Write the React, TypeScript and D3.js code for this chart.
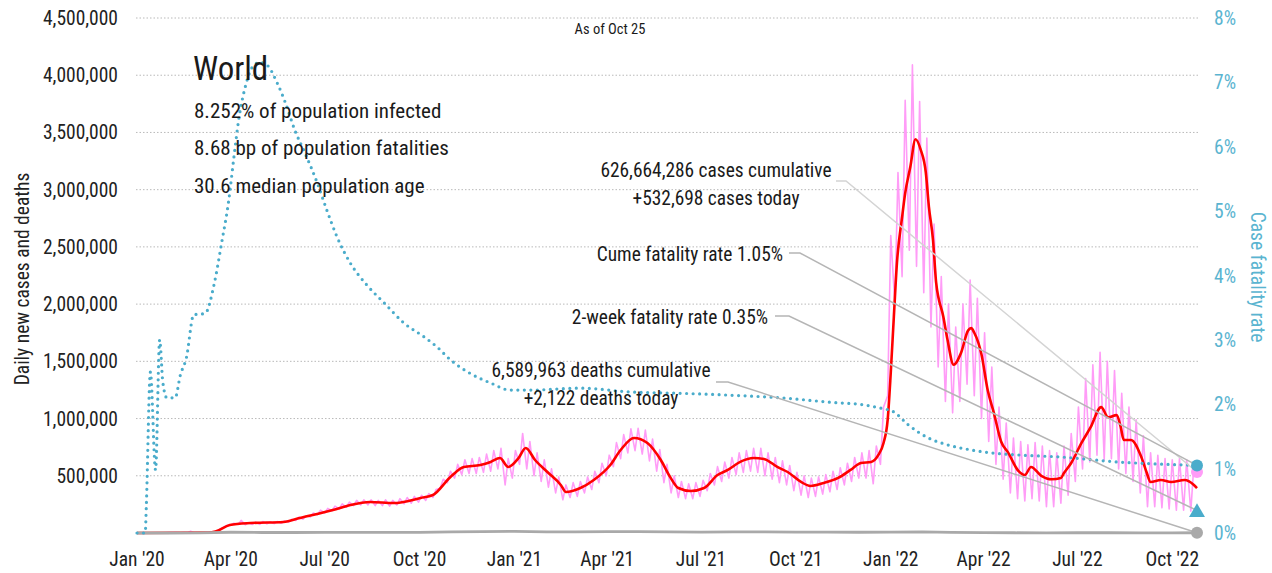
import React, { useRef, useEffect } from "react";
import * as d3 from "d3";

const FONT = "'Liberation Sans Narrow', 'Roboto Condensed', 'DejaVu Sans Condensed', 'Arial Narrow', sans-serif";
const BLUE = "#4aaccb";
const BLUE_TEXT = "#5ab4d0";
const PINK = "#ff9cf7";
const RED = "#ff0000";
const GRAY = "#a9a9a9";

// 7-day average of daily new cases
const redDates = [
    "2020-01-01", "2020-03-10", "2020-03-17", "2020-03-31", "2020-04-20", "2020-05-22", "2020-06-07",
    "2020-07-09", "2020-07-26", "2020-08-14", "2020-09-06", "2020-10-02", "2020-10-14", "2020-10-31",
    "2020-11-13", "2020-11-29", "2020-12-09", "2020-12-18", "2020-12-26", "2021-01-05", "2021-01-12",
    "2021-01-21", "2021-02-02", "2021-02-15", "2021-02-20", "2021-03-06", "2021-03-19", "2021-04-04",
    "2021-04-14", "2021-04-27", "2021-05-10", "2021-05-23", "2021-06-01", "2021-06-09", "2021-06-21",
    "2021-07-04", "2021-07-17", "2021-07-27", "2021-08-08", "2021-08-21", "2021-08-31", "2021-09-13",
    "2021-09-23", "2021-10-06", "2021-10-15", "2021-10-28", "2021-11-11", "2021-11-23", "2021-12-03",
    "2021-12-13", "2021-12-20", "2021-12-25", "2021-12-29", "2022-01-01", "2022-01-04", "2022-01-07",
    "2022-01-12", "2022-01-15", "2022-01-20", "2022-01-25", "2022-01-30", "2022-02-04", "2022-02-07",
    "2022-02-11", "2022-02-14", "2022-02-21", "2022-02-25", "2022-03-03", "2022-03-10", "2022-03-17",
    "2022-03-20", "2022-03-23", "2022-03-30", "2022-04-05", "2022-04-11", "2022-04-18", "2022-04-25",
    "2022-05-05", "2022-05-11", "2022-05-17", "2022-05-27", "2022-06-06", "2022-06-15", "2022-06-18",
    "2022-06-25", "2022-07-05", "2022-07-14", "2022-07-24", "2022-07-31", "2022-08-08", "2022-08-12",
    "2022-08-15", "2022-08-22", "2022-09-01", "2022-09-06", "2022-09-10", "2022-09-20", "2022-09-30",
    "2022-10-13", "2022-10-22", "2022-10-25",
];
const redValues = [
    0, 4, 12, 70, 87, 96, 131,
    200, 245, 271, 262, 306, 332, 490,
    577, 594, 621, 655, 577, 655, 743,
    638, 533, 420, 358, 393, 463, 594,
    725, 830, 787, 638, 490, 393, 367,
    393, 507, 551, 621, 655, 647, 577,
    533, 446, 411, 437, 481, 551, 612,
    621, 682, 787, 988, 1400, 1890, 2360,
    2760, 2970, 3200, 3440, 3350, 3150, 2850,
    2560, 2190, 1890, 1690, 1470, 1570, 1770,
    1790, 1750, 1560, 1250, 1050, 800, 700,
    540, 507, 577, 500, 470, 481, 524,
    612, 787, 927, 1100, 1010, 1030, 927,
    813, 813, 664, 533, 446, 463, 446,
    463, 420, 393,
]; // thousands

// daily new cases, weekly high / low (thousands), weeks starting 2020-01-01
const pinkStart = "2020-01-01";
const pinkHigh = [
    0, 0, 1, 2, 4, 4, 4, 15, 2, 2, 4,
    30, 65, 85, 110, 90, 95, 100, 98, 100, 105,
    120, 140, 150, 175, 200, 215, 235, 255, 270, 285,
    290, 290, 285, 290, 285, 300, 310, 320, 330, 345,
    380, 470, 540, 600, 640, 650, 660, 690, 720, 740,
    650, 720, 870, 800, 700, 640, 560, 490, 420, 440,
    450, 490, 540, 610, 680, 790, 860, 910, 915, 900,
    820, 730, 600, 500, 450, 430, 440, 460, 520, 580,
    620, 660, 700, 720, 740, 740, 700, 660, 630, 590,
    530, 500, 480, 490, 510, 540, 570, 610, 660, 700,
    720, 760, 1100, 2600, 3150, 3780, 4090, 3770, 3450, 2700,
    2240, 2000, 1800, 2000, 2210, 2050, 1750, 1450, 1100, 960,
    830, 800, 770, 790, 760, 720, 700, 760, 870, 1100,
    1350, 1470, 1580, 1500, 1420, 1220, 1100, 990, 850, 700,
    680, 650, 640, 650, 640, 600,
];
const pinkLow = [
    0, 0, 0, 1, 2, 3, 2, 2, 1, 1, 3,
    15, 50, 70, 75, 72, 75, 75, 80, 82, 85,
    95, 110, 120, 140, 160, 175, 195, 210, 225, 240,
    245, 245, 240, 240, 235, 245, 255, 260, 270, 285,
    310, 390, 440, 480, 510, 520, 520, 530, 540, 560,
    420, 480, 600, 560, 500, 450, 400, 350, 290, 310,
    320, 350, 380, 440, 500, 580, 650, 700, 720, 690,
    630, 540, 440, 350, 310, 300, 300, 320, 370, 420,
    450, 480, 510, 530, 540, 530, 500, 470, 440, 420,
    370, 330, 310, 320, 340, 360, 380, 420, 450, 480,
    480, 430, 600, 1200, 2000, 2240, 2470, 2330, 2100, 1800,
    1450, 1150, 1050, 1150, 1300, 1200, 1000, 800, 600, 470,
    350, 300, 280, 300, 280, 230, 230, 260, 330, 450,
    560, 620, 680, 640, 650, 560, 520, 450, 350, 230,
    230, 220, 210, 200, 200, 190,
];

// cumulative case fatality rate (%)
const cfrDates = [
    "2020-01-01", "2020-01-09", "2020-01-10", "2020-01-14", "2020-01-19", "2020-01-23", "2020-01-26",
    "2020-01-30", "2020-02-07", "2020-02-12", "2020-02-18", "2020-02-25", "2020-03-07", "2020-03-16",
    "2020-03-23", "2020-03-30", "2020-04-04", "2020-04-09", "2020-04-15", "2020-04-22", "2020-04-29",
    "2020-05-06", "2020-05-16", "2020-05-24", "2020-06-02", "2020-06-12", "2020-06-24", "2020-07-03",
    "2020-07-13", "2020-07-26", "2020-08-11", "2020-08-28", "2020-09-16", "2020-10-06", "2020-10-18",
    "2020-10-31", "2020-11-19", "2020-12-09", "2020-12-28", "2021-01-17", "2021-03-06", "2021-04-24",
    "2021-06-11", "2021-07-30", "2021-09-16", "2021-11-04", "2021-12-06", "2021-12-22", "2022-01-04",
    "2022-01-18", "2022-02-06", "2022-02-25", "2022-03-20", "2022-04-11", "2022-05-07", "2022-06-15",
    "2022-08-12", "2022-09-20", "2022-10-25",
];
const cfrValues = [
    0, 0, 0.4, 2.5, 0.98, 3.0, 2.35,
    2.1, 2.1, 2.45, 2.73, 3.39, 3.41, 3.88,
    4.5, 5.17, 5.84, 6.46, 6.93, 7.24, 7.31,
    7.27, 6.99, 6.68, 6.26, 5.9, 5.43, 5.02,
    4.6, 4.19, 3.85, 3.57, 3.26, 3.04, 2.89,
    2.69, 2.48, 2.33, 2.22, 2.22, 2.25, 2.19,
    2.17, 2.14, 2.1, 2.03, 1.99, 1.94, 1.88,
    1.68, 1.48, 1.37, 1.29, 1.24, 1.21, 1.18,
    1.1, 1.07, 1.05,
];

// daily deaths, monthly (thousands)
const deathDates = [
    "2020-01-01", "2020-02-01", "2020-03-01", "2020-04-01", "2020-05-01", "2020-06-01", "2020-07-01",
    "2020-08-01", "2020-09-01", "2020-10-01", "2020-11-01", "2020-12-01", "2021-01-01", "2021-02-01",
    "2021-03-01", "2021-04-01", "2021-05-01", "2021-06-01", "2021-07-01", "2021-08-01", "2021-09-01",
    "2021-10-01", "2021-11-01", "2021-12-01", "2022-01-01", "2022-02-01", "2022-03-01", "2022-04-01",
    "2022-05-01", "2022-06-01", "2022-07-01", "2022-08-01", "2022-09-01", "2022-10-01", "2022-10-25",
];
const deathValues = [
    0, 0.1, 1.5, 6.5, 4.5, 4.5, 5.5, 5.8, 5.3, 6, 9.5, 11.5, 14, 10, 9, 12, 12, 9, 8.5, 10,
    9, 7, 7, 6.7, 8, 10, 6, 3.5, 2, 1.5, 2, 2.2, 1.8, 1.5, 2.122,
];

const yTicks = [500000, 1000000, 1500000, 2000000, 2500000, 3000000, 3500000, 4000000, 4500000];
const rTicks = [0, 1, 2, 3, 4, 5, 6, 7, 8];
const xTickDates = [
    "2020-01-01", "2020-04-01", "2020-07-01", "2020-10-01", "2021-01-01", "2021-04-01",
    "2021-07-01", "2021-10-01", "2022-01-01", "2022-04-01", "2022-07-01", "2022-10-01",
];
const xTickLabels = [
    "Jan '20", "Apr '20", "Jul '20", "Oct '20", "Jan '21", "Apr '21",
    "Jul '21", "Oct '21", "Jan '22", "Apr '22", "Jul '22", "Oct '22",
];

const lastDate = "2022-10-25";
const casesToday = 532698;
const cumeCfr = 1.05;
const twoWeekCfr = 0.35;
const deathsToday = 2122;

export default function App() {
    const svgRef = useRef<SVGSVGElement>(null);

    useEffect(() => {
        document.body.style.margin = "0";
        const svg = d3.select(svgRef.current);
        svg.selectAll("*").remove();
        const parse = d3.timeParse("%Y-%m-%d");

        const x = d3
            .scaleTime()
            .domain([parse("2020-01-01"), parse(lastDate)])
            .range([137, 1197]);
        const y = d3.scaleLinear().domain([0, 4500000]).range([533, 18]);
        const yr = d3.scaleLinear().domain([0, 8]).range([533, 18]);

        // grid
        svg.append("g")
            .selectAll("line")
            .data(yTicks)
            .join("line")
            .attr("x1", 136)
            .attr("x2", 1199)
            .attr("y1", (d) => y(d))
            .attr("y2", (d) => y(d))
            .attr("stroke", "#b9b9b9")
            .attr("stroke-width", 1)
            .attr("stroke-dasharray", "1.5,2");

        // left ticks
        svg.append("g")
            .selectAll("text")
            .data(yTicks)
            .join("text")
            .attr("x", 118)
            .attr("y", (d) => y(d))
            .attr("dy", "0.36em")
            .attr("text-anchor", "end")
            .attr("font-family", FONT)
            .attr("font-size", 19.5)
            .attr("fill", "#222")
            .text((d) => d3.format(",")(d));

        // right ticks
        svg.append("g")
            .selectAll("text")
            .data(rTicks)
            .join("text")
            .attr("x", 1214)
            .attr("y", (d) => yr(d))
            .attr("dy", "0.36em")
            .attr("font-family", FONT)
            .attr("font-size", 19.5)
            .attr("fill", BLUE_TEXT)
            .text((d) => d + "%");

        // x ticks
        svg.append("g")
            .selectAll("text")
            .data(xTickDates)
            .join("text")
            .attr("x", (d) => x(parse(d)))
            .attr("y", 566)
            .attr("text-anchor", "middle")
            .attr("font-family", FONT)
            .attr("font-size", 19.5)
            .attr("fill", "#222")
            .text((d, i) => xTickLabels[i]);

        // axis titles
        svg.append("text")
            .attr("transform", "translate(29,279) rotate(-90)")
            .attr("text-anchor", "middle")
            .attr("font-family", FONT)
            .attr("font-size", 19.5)
            .attr("fill", "#222")
            .text("Daily new cases and deaths");
        svg.append("text")
            .attr("transform", "translate(1251,277) rotate(90)")
            .attr("text-anchor", "middle")
            .attr("font-family", FONT)
            .attr("font-size", 19.5)
            .attr("fill", BLUE_TEXT)
            .text("Case fatality rate");

        // daily cases (pink)
        const start = parse(pinkStart);
        const pink = [];
        pinkHigh.forEach((h, i) => {
            pink.push({ date: d3.timeDay.offset(start, 7 * i), v: pinkLow[i] * 1000 });
            pink.push({ date: d3.timeDay.offset(start, 7 * i + 3), v: h * 1000 });
        });
        pink.push({ date: parse(lastDate), v: casesToday });
        const line = d3
            .line()
            .x((d) => x(d.date))
            .y((d) => y(d.v));
        svg.append("path")
            .datum(pink)
            .attr("fill", "none")
            .attr("stroke", PINK)
            .attr("stroke-width", 1.6)
            .attr("stroke-linejoin", "round")
            .attr("d", line);

        // 7-day average (red)
        const red = redDates.map((d, i) => ({ date: parse(d), v: redValues[i] * 1000 }));
        svg.append("path")
            .datum(red)
            .attr("fill", "none")
            .attr("stroke", RED)
            .attr("stroke-width", 2.6)
            .attr("stroke-linejoin", "round")
            .attr("d", line.curve(d3.curveMonotoneX));

        // daily deaths (gray)
        const deaths = deathDates.map((d, i) => ({ date: parse(d), v: deathValues[i] * 1000 }));
        svg.append("path")
            .datum(deaths)
            .attr("fill", "none")
            .attr("stroke", GRAY)
            .attr("stroke-width", 2.8)
            .attr("d", line.curve(d3.curveLinear));

        // case fatality rate (blue dotted)
        const cfr = cfrDates.map((d, i) => ({ date: parse(d), v: cfrValues[i] }));
        svg.append("path")
            .datum(cfr)
            .attr("fill", "none")
            .attr("stroke", BLUE)
            .attr("stroke-width", 3.2)
            .attr("stroke-linecap", "round")
            .attr("stroke-dasharray", "0,6.5")
            .attr(
                "d",
                d3
                    .line()
                    .x((d) => x(d.date))
                    .y((d) => yr(d.v))
                    .curve(d3.curveMonotoneX)
            );

        // leader lines
        const xe = x(parse(lastDate));
        const leaders = [
            { x0: 836, x1: 846, y0: 181, ye: y(casesToday), c: "#d4d4d4" },
            { x0: 789, x1: 800, y0: 253, ye: yr(cumeCfr), c: "#b5b5b5" },
            { x0: 775, x1: 789, y0: 316, ye: yr(twoWeekCfr), c: "#b5b5b5" },
            { x0: 716, x1: 728, y0: 382, ye: y(deathsToday), c: "#b5b5b5" },
        ];
        svg.append("g")
            .selectAll("polyline")
            .data(leaders)
            .join("polyline")
            .attr("points", (d) => `${d.x0},${d.y0} ${d.x1},${d.y0} ${xe},${d.ye}`)
            .attr("fill", "none")
            .attr("stroke", (d) => d.c)
            .attr("stroke-width", 1.5);

        // end markers
        svg.append("circle").attr("cx", xe).attr("cy", y(deathsToday)).attr("r", 6).attr("fill", GRAY);
        svg.append("circle").attr("cx", xe).attr("cy", y(casesToday)).attr("r", 6).attr("fill", PINK);
        svg.append("circle").attr("cx", xe).attr("cy", yr(cumeCfr)).attr("r", 6).attr("fill", BLUE);
        svg.append("path")
            .attr("transform", `translate(${xe},${yr(twoWeekCfr) + 2})`)
            .attr("d", d3.symbol(d3.symbolTriangle, 110)())
            .attr("fill", BLUE);

        // texts
        const txt = (tx, ty, s, size, anchor = "start", color = "#1a1a1a") =>
            svg.append("text")
                .attr("x", tx)
                .attr("y", ty)
                .attr("text-anchor", anchor)
                .attr("font-family", FONT)
                .attr("font-size", size)
                .attr("fill", color)
                .text(s);

        txt(610, 34, "As of Oct 25", 14.5, "middle");
        txt(193, 80, "World", 33);
        txt(194, 118, "8.252% of population infected", 21);
        txt(194, 155, "8.68 bp of population fatalities", 21);
        txt(194, 193, "30.6 median population age", 21);
        txt(716, 177, "626,664,286 cases cumulative", 19.4, "middle");
        txt(716, 205, "+532,698 cases today", 19.4, "middle");
        txt(783, 261, "Cume fatality rate 1.05%", 19.4, "end");
        txt(768, 324, "2-week fatality rate 0.35%", 19.4, "end");
        txt(601, 377, "6,589,963 deaths cumulative", 19.4, "middle");
        txt(601, 405, "+2,122 deaths today", 19.4, "middle");
    }, []);

    return <svg ref={svgRef} width={1272} height={573} style={{ display: "block" }}></svg>;
}
